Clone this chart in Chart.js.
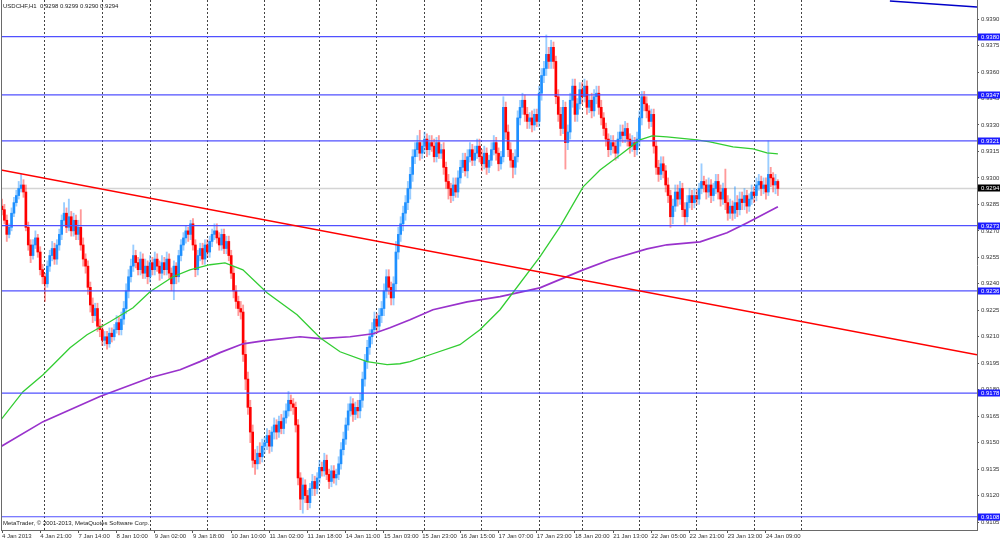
<!DOCTYPE html>
<html>
<head>
<meta charset="utf-8">
<title>USDCHF,H1</title>
<script src="https://cdn.jsdelivr.net/npm/chart.js@4.4.1/dist/chart.umd.min.js"></script>
<style>
  html, body { margin: 0; padding: 0; background: #fff; }
  #wrap { width: 1000px; height: 541px; position: relative; }
</style>
</head>
<body>
<div id="wrap"><canvas id="usdchfChart"></canvas></div>
<script>
// USDCHF H1 bars, prices in pips (9282 = 0.9282)
const opens = [
  9284, 9282, 9276, 9268, 9272, 9280, 9286, 9290, 9294, 9296,
  9292, 9272, 9262, 9256, 9262, 9266, 9258, 9248, 9244, 9240,
  9250, 9256, 9260, 9254, 9262, 9268, 9276, 9280, 9272, 9278,
  9270, 9276, 9268, 9272, 9262, 9254, 9250, 9238, 9228, 9222,
  9226, 9216, 9214, 9208, 9210, 9206, 9212, 9210, 9214, 9218,
  9214, 9220, 9226, 9236, 9244, 9250, 9256, 9252, 9248, 9254,
  9246, 9250, 9244, 9252, 9248, 9254, 9250, 9246, 9252, 9248,
  9254, 9246, 9240, 9250, 9244, 9256, 9262, 9266, 9270, 9268,
  9274, 9262, 9248, 9256, 9260, 9254, 9262, 9258, 9264, 9268,
  9270, 9266, 9262, 9268, 9260, 9264, 9256, 9246, 9236, 9230,
  9226, 9224, 9200, 9186, 9170, 9156, 9140, 9138, 9144, 9142,
  9148, 9150, 9154, 9148, 9156, 9160, 9156, 9162, 9158, 9164,
  9168, 9174, 9172, 9170, 9160, 9130, 9118, 9126, 9120, 9116,
  9124, 9128, 9124, 9130, 9136, 9134, 9140, 9132, 9128, 9134,
  9130, 9132, 9138, 9146, 9152, 9160, 9168, 9172, 9166, 9170,
  9168, 9174, 9186, 9196, 9204, 9210, 9214, 9220, 9216, 9222,
  9226, 9236, 9244, 9238, 9232, 9240, 9258, 9268, 9274, 9280,
  9286, 9294, 9302, 9312, 9316, 9320, 9314, 9318, 9322, 9316,
  9320, 9318, 9312, 9320, 9314, 9316, 9306, 9298, 9294, 9290,
  9296, 9292, 9300, 9306, 9310, 9304, 9312, 9316, 9310, 9314,
  9318, 9312, 9308, 9314, 9306, 9310, 9316, 9320, 9314, 9308,
  9312, 9340, 9326, 9316, 9310, 9306, 9312, 9334, 9340, 9344,
  9336, 9332, 9334, 9330, 9336, 9332, 9348, 9358, 9362, 9370,
  9366, 9374, 9366, 9346, 9336, 9328, 9340, 9320, 9326, 9344,
  9352, 9336, 9342, 9350, 9346, 9352, 9340, 9344, 9338, 9346,
  9348, 9340, 9334, 9328, 9322, 9316, 9320, 9318, 9314, 9322,
  9326, 9324, 9328, 9322, 9318, 9320, 9316, 9322, 9334, 9346,
  9342, 9338, 9332, 9336, 9318, 9306, 9302, 9308, 9304, 9296,
  9290, 9278, 9284, 9292, 9288, 9294, 9282, 9278, 9286, 9290,
  9286, 9290, 9288, 9294, 9298, 9296, 9292, 9296, 9290, 9294,
  9298, 9292, 9288, 9294, 9286, 9280, 9284, 9280, 9286, 9282,
  9288, 9286, 9290, 9284, 9288, 9292, 9290, 9296, 9298, 9294,
  9296, 9292, 9302, 9300, 9296, 9298
];
const highs = [
  9288, 9285, 9279, 9274, 9283, 9289, 9293, 9298, 9302, 9299,
  9296, 9275, 9265, 9265, 9270, 9268, 9261, 9251, 9246, 9253,
  9259, 9264, 9263, 9265, 9271, 9279, 9286, 9283, 9288, 9281,
  9280, 9279, 9276, 9282, 9266, 9257, 9253, 9241, 9232, 9229,
  9229, 9220, 9217, 9213, 9213, 9215, 9215, 9217, 9222, 9221,
  9224, 9230, 9240, 9248, 9254, 9262, 9259, 9255, 9258, 9257,
  9254, 9253, 9256, 9255, 9258, 9257, 9253, 9256, 9255, 9258,
  9257, 9249, 9253, 9252, 9259, 9265, 9269, 9273, 9272, 9276,
  9277, 9265, 9259, 9263, 9263, 9265, 9265, 9267, 9271, 9274,
  9274, 9269, 9271, 9271, 9267, 9267, 9259, 9250, 9239, 9233,
  9230, 9228, 9208, 9190, 9174, 9160, 9146, 9148, 9150, 9152,
  9153, 9158, 9157, 9159, 9164, 9163, 9165, 9166, 9168, 9172,
  9179, 9177, 9175, 9173, 9163, 9133, 9130, 9129, 9123, 9127,
  9132, 9131, 9133, 9140, 9139, 9144, 9143, 9135, 9137, 9137,
  9135, 9142, 9150, 9156, 9164, 9172, 9176, 9175, 9173, 9174,
  9178, 9190, 9200, 9208, 9214, 9218, 9224, 9223, 9226, 9230,
  9240, 9248, 9248, 9241, 9244, 9264, 9272, 9278, 9284, 9290,
  9298, 9306, 9316, 9320, 9324, 9327, 9321, 9326, 9325, 9324,
  9324, 9322, 9323, 9324, 9319, 9320, 9309, 9302, 9297, 9300,
  9300, 9304, 9310, 9314, 9314, 9316, 9320, 9319, 9318, 9322,
  9322, 9316, 9318, 9317, 9313, 9320, 9324, 9323, 9317, 9315,
  9346, 9343, 9330, 9320, 9314, 9316, 9338, 9344, 9348, 9347,
  9340, 9337, 9338, 9339, 9339, 9352, 9362, 9366, 9381, 9374,
  9378, 9377, 9369, 9350, 9340, 9344, 9343, 9330, 9348, 9356,
  9356, 9345, 9354, 9354, 9356, 9355, 9347, 9348, 9350, 9352,
  9352, 9344, 9337, 9331, 9325, 9324, 9324, 9321, 9326, 9330,
  9330, 9332, 9331, 9325, 9324, 9323, 9326, 9338, 9349, 9349,
  9346, 9341, 9339, 9339, 9321, 9310, 9312, 9312, 9307, 9300,
  9293, 9288, 9296, 9296, 9298, 9297, 9286, 9290, 9294, 9293,
  9294, 9293, 9297, 9308, 9301, 9299, 9300, 9299, 9297, 9302,
  9302, 9296, 9297, 9305, 9290, 9288, 9287, 9295, 9290, 9292,
  9292, 9294, 9293, 9291, 9296, 9295, 9300, 9302, 9301, 9300,
  9300, 9321, 9306, 9303, 9302, 9299
];
const lows = [
  9279, 9274, 9264, 9266, 9270, 9278, 9284, 9288, 9292, 9289,
  9270, 9259, 9252, 9254, 9260, 9255, 9245, 9240, 9230, 9238,
  9247, 9253, 9251, 9251, 9259, 9265, 9273, 9269, 9270, 9267,
  9267, 9265, 9265, 9259, 9250, 9246, 9234, 9224, 9218, 9219,
  9213, 9210, 9205, 9205, 9203, 9204, 9207, 9208, 9212, 9211,
  9211, 9217, 9223, 9232, 9241, 9247, 9249, 9245, 9245, 9243,
  9243, 9240, 9241, 9245, 9245, 9247, 9242, 9243, 9245, 9245,
  9243, 9236, 9231, 9240, 9241, 9253, 9259, 9263, 9264, 9265,
  9259, 9244, 9245, 9253, 9251, 9251, 9255, 9255, 9261, 9265,
  9263, 9259, 9259, 9257, 9257, 9253, 9243, 9232, 9226, 9222,
  9220, 9196, 9180, 9166, 9150, 9136, 9132, 9135, 9138, 9139,
  9144, 9146, 9144, 9145, 9152, 9152, 9153, 9155, 9155, 9161,
  9165, 9168, 9166, 9156, 9126, 9112, 9110, 9116, 9112, 9113,
  9120, 9120, 9121, 9127, 9131, 9131, 9129, 9124, 9125, 9127,
  9126, 9129, 9135, 9143, 9149, 9157, 9165, 9162, 9163, 9164,
  9164, 9170, 9182, 9192, 9200, 9206, 9211, 9212, 9213, 9218,
  9222, 9232, 9234, 9228, 9228, 9236, 9254, 9264, 9270, 9276,
  9282, 9288, 9298, 9308, 9312, 9310, 9311, 9314, 9312, 9313,
  9315, 9309, 9309, 9311, 9311, 9302, 9294, 9288, 9286, 9287,
  9289, 9289, 9297, 9303, 9301, 9300, 9309, 9307, 9307, 9311,
  9309, 9304, 9305, 9302, 9303, 9307, 9313, 9310, 9304, 9305,
  9309, 9322, 9312, 9306, 9300, 9302, 9309, 9330, 9336, 9332,
  9328, 9328, 9326, 9327, 9329, 9329, 9344, 9354, 9358, 9362,
  9362, 9362, 9342, 9332, 9324, 9325, 9305, 9316, 9322, 9340,
  9332, 9332, 9339, 9342, 9343, 9336, 9337, 9334, 9335, 9342,
  9336, 9330, 9324, 9318, 9312, 9313, 9314, 9310, 9311, 9318,
  9320, 9320, 9318, 9314, 9315, 9312, 9313, 9318, 9330, 9338,
  9334, 9328, 9329, 9314, 9302, 9298, 9299, 9300, 9292, 9286,
  9272, 9274, 9281, 9284, 9285, 9278, 9273, 9275, 9283, 9282,
  9283, 9285, 9285, 9291, 9292, 9288, 9289, 9286, 9287, 9291,
  9288, 9284, 9285, 9282, 9276, 9277, 9276, 9277, 9278, 9279,
  9282, 9282, 9280, 9281, 9285, 9286, 9287, 9293, 9290, 9291,
  9288, 9290, 9295, 9292, 9291, 9290
];
const closes = [
  9282, 9276, 9268, 9272, 9280, 9286, 9290, 9294, 9296, 9292,
  9272, 9262, 9256, 9262, 9266, 9258, 9248, 9244, 9240, 9250,
  9256, 9260, 9254, 9262, 9268, 9276, 9280, 9272, 9278, 9270,
  9276, 9268, 9272, 9262, 9254, 9250, 9238, 9228, 9222, 9226,
  9216, 9214, 9208, 9210, 9206, 9212, 9210, 9214, 9218, 9214,
  9220, 9226, 9236, 9244, 9250, 9256, 9252, 9248, 9254, 9246,
  9250, 9244, 9252, 9248, 9254, 9250, 9246, 9252, 9248, 9254,
  9246, 9240, 9250, 9244, 9256, 9262, 9266, 9270, 9268, 9274,
  9262, 9248, 9256, 9260, 9254, 9262, 9258, 9264, 9268, 9270,
  9266, 9262, 9268, 9260, 9264, 9256, 9246, 9236, 9230, 9226,
  9224, 9200, 9186, 9170, 9156, 9140, 9138, 9144, 9142, 9148,
  9150, 9154, 9148, 9156, 9160, 9156, 9162, 9158, 9164, 9168,
  9174, 9172, 9170, 9160, 9130, 9118, 9126, 9120, 9116, 9124,
  9128, 9124, 9130, 9136, 9134, 9140, 9132, 9128, 9134, 9130,
  9132, 9138, 9146, 9152, 9160, 9168, 9172, 9166, 9170, 9168,
  9174, 9186, 9196, 9204, 9210, 9214, 9220, 9216, 9222, 9226,
  9236, 9244, 9238, 9232, 9240, 9258, 9268, 9274, 9280, 9286,
  9294, 9302, 9312, 9316, 9320, 9314, 9318, 9322, 9316, 9320,
  9318, 9312, 9320, 9314, 9316, 9306, 9298, 9294, 9290, 9296,
  9292, 9300, 9306, 9310, 9304, 9312, 9316, 9310, 9314, 9318,
  9312, 9308, 9314, 9306, 9310, 9316, 9320, 9314, 9308, 9312,
  9340, 9326, 9316, 9310, 9306, 9312, 9334, 9340, 9344, 9336,
  9332, 9334, 9330, 9336, 9332, 9348, 9358, 9362, 9370, 9366,
  9374, 9366, 9346, 9336, 9328, 9340, 9320, 9326, 9344, 9352,
  9336, 9342, 9350, 9346, 9352, 9340, 9344, 9338, 9346, 9348,
  9340, 9334, 9328, 9322, 9316, 9320, 9318, 9314, 9322, 9326,
  9324, 9328, 9322, 9318, 9320, 9316, 9322, 9334, 9346, 9342,
  9338, 9332, 9336, 9318, 9306, 9302, 9308, 9304, 9296, 9290,
  9278, 9284, 9292, 9288, 9294, 9282, 9278, 9286, 9290, 9286,
  9290, 9288, 9294, 9298, 9296, 9292, 9296, 9290, 9294, 9298,
  9292, 9288, 9294, 9286, 9280, 9284, 9280, 9286, 9282, 9288,
  9286, 9290, 9284, 9288, 9292, 9290, 9296, 9298, 9294, 9296,
  9292, 9302, 9300, 9296, 9298, 9294
];

// time axis labels, one every 16 bars
const timeLabels = [
  '4 Jan 2013', '4 Jan 21:00', '7 Jan 14:00', '8 Jan 10:00', '9 Jan 02:00',
  '9 Jan 18:00', '10 Jan 10:00', '11 Jan 02:00', '11 Jan 18:00', '14 Jan 11:00',
  '15 Jan 03:00', '15 Jan 23:00', '16 Jan 15:00', '17 Jan 07:00', '17 Jan 23:00',
  '18 Jan 20:00', '21 Jan 13:00', '22 Jan 05:00', '22 Jan 21:00', '23 Jan 13:00',
  '24 Jan 09:00'
];
// bars where the dotted day separators fall
const gridBars = [18, 42, 62, 86, 110, 133, 157, 177, 201, 225, 243, 267, 291, 315, 335];

// price scale labels (pips)
const priceTicks = [9105, 9120, 9135, 9150, 9165, 9180, 9195, 9210, 9225, 9240,
  9255, 9270, 9285, 9300, 9315, 9330, 9345, 9360, 9375, 9390];
// horizontal levels drawn on the chart and the current bid
const levels = [9380, 9347, 9321, 9273, 9236, 9178, 9108];
const lastPrice = 9294;

// moving averages (bar index, pips)
const greenBars = [-0.4, 8.8, 17.2, 28.5, 35.6, 45.2, 54.9, 62.0, 71.6, 78.7, 87.1, 93.4, 100.9,
  111.0, 123.6, 133.2, 141.6, 152.9, 161.3, 166.7, 170.9, 179.3, 191.8, 200.2, 208.6, 225.3,
  233.7, 243.4, 250.5, 258.9, 267.2, 272.3, 278.5, 291.1, 296.5, 306.2, 314.6, 320.4, 325];
const greenMa = [9163.0, 9178.9, 9188.5, 9203.8, 9211.1, 9218.5, 9226.4, 9235.5, 9244.0, 9247.9,
  9250.8, 9251.9, 9247.9, 9234.9, 9222.5, 9209.4, 9201.5, 9195.9, 9194.2, 9194.7, 9195.9, 9199.8,
  9205.5, 9214.0, 9225.3, 9255.3, 9272.3, 9294.9, 9304.5, 9313.0, 9321.5, 9323.8, 9323.2, 9321.5,
  9320.4, 9317.6, 9316.4, 9314.2, 9313.6];
const purpleBars = [-0.4, 17.2, 41.0, 62.0, 74.6, 82.9, 91.3, 100.9, 109.3, 124.8, 133.2, 145.8,
  155.4, 162.5, 170.9, 180.5, 194.8, 208.6, 225.3, 243.4, 254.7, 270.2, 278.5, 292.4, 303.7,
  312.0, 325];
const purpleMa = [9147.8, 9161.9, 9176.1, 9186.8, 9191.3, 9195.9, 9201.0, 9206.0, 9207.7, 9210.0,
  9208.9, 9210.0, 9211.7, 9215.1, 9219.6, 9225.3, 9229.8, 9232.7, 9237.7, 9247.9, 9253.6, 9259.8,
  9262.1, 9263.8, 9268.9, 9274.5, 9283.6];

// trend lines (bar index, pips)
const redTrendBars = [-0.42, 408.4];
const redTrend = [9304.5, 9199.8];
const blueTrendBars = [371.9, 408.4];
const blueTrend = [9400.2, 9396.8];

const X_MIN = -0.42, X_MAX = 408.4;
const FONT = '"Liberation Sans", Arial, sans-serif';
const px = v => v / 10000;
const last = closes.length - 1;

const up = closes.map((c, i) => c >= opens[i]);
const wickData = closes.map((c, i) => ({ x: i, y: [px(lows[i]), px(highs[i])] }));
const bodyData = closes.map((c, i) => ({ x: i, y: [px(opens[i]), px(c)] }));

function hLine(value, color, width, order) {
  return {
    type: 'line',
    data: [{ x: X_MIN, y: px(value) }, { x: X_MAX, y: px(value) }],
    borderColor: color, borderWidth: width, pointRadius: 0, order: order,
    xAxisID: 'x', yAxisID: 'y'
  };
}
function pathLine(bars, vals, color, width, order) {
  return {
    type: 'line',
    data: bars.map((b, i) => ({ x: b, y: px(vals[i]) })),
    borderColor: color, borderWidth: width, pointRadius: 0, tension: 0, order: order,
    xAxisID: 'x', yAxisID: 'y'
  };
}

// frame, header, footer and price boxes on the price scale
const overlay = {
  id: 'overlay',
  afterDraw(chart) {
    const { ctx, chartArea, scales } = chart;
    ctx.save();
    ctx.strokeStyle = '#6a6a6a';
    ctx.lineWidth = 1;
    ctx.beginPath();
    ctx.moveTo(chartArea.left + 0.5, chartArea.top);
    ctx.lineTo(chartArea.left + 0.5, chartArea.bottom);
    ctx.stroke();

    ctx.font = '6px ' + FONT;
    ctx.textBaseline = 'middle';
    ctx.textAlign = 'left';
    ctx.fillStyle = '#222';
    const head = 'USDCHF,H1  ' + [opens[last], highs[last], lows[last], closes[last]]
      .map(v => px(v).toFixed(4)).join(' ');
    ctx.fillText(head, chartArea.left + 2, 6);
    ctx.fillText('MetaTrader, \u00a9 2001-2013, MetaQuotes Software Corp.', chartArea.left + 2, 523);

    const boxes = levels.map(l => [l, '#1c1cff']).concat([[lastPrice, '#000']]);
    boxes.forEach(([l, col]) => {
      const y = Math.round(scales.y.getPixelForValue(px(l)));
      ctx.fillStyle = col;
      ctx.fillRect(chartArea.right + 1, y - 3.5, 23, 7);
      ctx.fillStyle = '#fff';
      ctx.fillText(px(l).toFixed(4), chartArea.right + 4, y);
    });
    ctx.restore();
  }
};

const ctx = document.getElementById('usdchfChart').getContext('2d');
new Chart(ctx, {
  type: 'bar',
  data: {
    datasets: [
      pathLine(blueTrendBars, blueTrend, '#0000c8', 1.5, 1),
      pathLine(redTrendBars, redTrend, '#ff0000', 1.5, 1),
      ...levels.map(l => hLine(l, '#5050ff', 1.2, 2)),
      pathLine(greenBars, greenMa, '#32cd32', 1.3, 3),
      pathLine(purpleBars, purpleMa, '#9932cc', 1.7, 3),
      {
        data: bodyData,
        backgroundColor: up.map(u => u ? '#1e90ff' : '#ff0000'),
        barThickness: 2, minBarLength: 1, borderWidth: 0, grouped: false, order: 4,
        xAxisID: 'x', yAxisID: 'y'
      },
      {
        data: wickData,
        backgroundColor: up.map(u => u ? 'rgba(30,144,255,0.45)' : 'rgba(255,0,0,0.4)'),
        barThickness: 1.2, borderWidth: 0, grouped: false, order: 5,
        xAxisID: 'x', yAxisID: 'y'
      },
      hLine(lastPrice, '#d4d4d4', 1.5, 6)
    ]
  },
  options: {
    responsive: true,
    maintainAspectRatio: false,
    animation: false,
    events: [],
    layout: { padding: { left: 1, top: 0, right: 0, bottom: 0 } },
    plugins: {
      legend: { display: false },
      tooltip: { enabled: false }
    },
    scales: {
      x: {
        type: 'linear',
        position: 'bottom',
        min: X_MIN, max: X_MAX,
        offset: false,
        afterBuildTicks: s => { s.ticks = timeLabels.map((t, k) => ({ value: k * 16 })); },
        afterFit: s => { s.height = 11; s.paddingLeft = 0; s.paddingRight = 0; },
        ticks: {
          autoSkip: false, maxRotation: 0, align: 'start', padding: 0,
          color: '#333', font: { family: FONT, size: 6 },
          callback: v => timeLabels[Math.round(v / 16)]
        },
        grid: { display: true, offset: false, drawOnChartArea: false, drawTicks: true, tickLength: 3, color: '#555' },
        border: { display: true, color: '#6a6a6a', width: 1 }
      },
      xg: {
        type: 'linear',
        position: 'top',
        min: X_MIN, max: X_MAX,
        offset: false,
        afterBuildTicks: s => { s.ticks = gridBars.map(b => ({ value: b })); },
        afterFit: s => { s.height = 0; s.paddingLeft = 0; s.paddingRight = 0; },
        ticks: { display: false },
        grid: { display: true, offset: false, drawOnChartArea: true, drawTicks: false, color: '#444', lineWidth: 1 },
        border: { display: false, dash: [2, 2] }
      },
      y: {
        type: 'linear',
        position: 'right',
        min: 0.91005, max: 0.94008,
        afterBuildTicks: s => { s.ticks = priceTicks.map(p => ({ value: px(p) })); },
        afterFit: s => { s.width = 23; s.paddingTop = 0; s.paddingBottom = 0; },
        ticks: {
          autoSkip: false, padding: 2,
          color: '#333', font: { family: FONT, size: 6 },
          callback: v => v.toFixed(4)
        },
        grid: { display: true, drawOnChartArea: false, drawTicks: true, tickLength: 2, color: '#555' },
        border: { display: true, color: '#6a6a6a', width: 1 }
      }
    }
  },
  plugins: [overlay]
});
</script>
</body>
</html>
